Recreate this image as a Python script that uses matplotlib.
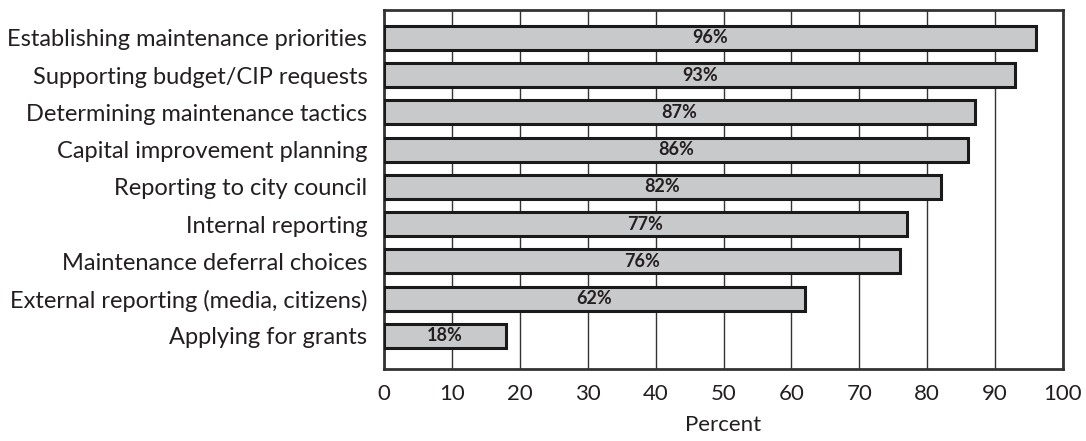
import matplotlib
matplotlib.use("Agg")
import matplotlib.pyplot as plt

# ── Data ──────────────────────────────────────────────────────────────────────
categories = [
    "Establishing maintenance priorities",
    "Supporting budget/CIP requests",
    "Determining maintenance tactics",
    "Capital improvement planning",
    "Reporting to city council",
    "Internal reporting",
    "Maintenance deferral choices",
    "External reporting (media, citizens)",
    "Applying for grants",
]
percents = [96, 93, 87, 86, 82, 77, 76, 62, 18]
xticks = [0, 10, 20, 30, 40, 50, 60, 70, 80, 90, 100]

TEXT = "#231f20"
plt.rcParams["font.family"] = ["Lato", "DejaVu Sans"]

fig = plt.figure(figsize=(10.86, 4.41), dpi=100)
ax = fig.add_axes([384 / 1086, 1 - 369 / 441, (1063 - 384) / 1086, (369 - 10) / 441])

y = list(range(len(categories)))
ax.barh(y, percents, height=0.64, color="#c8c9cb", edgecolor="#1a1a1a",
        linewidth=2.2, zorder=3)
for yi, p in zip(y, percents):
    ax.text(p / 2, yi, f"{p}%", ha="center", va="center", fontsize=13,
            fontweight="bold", color=TEXT, zorder=4)

ax.set_xlim(0, 100)
ax.set_ylim(8.89, -0.75)
ax.set_xticks(xticks)
ax.set_yticks(y)
ax.set_yticklabels(categories, fontsize=17, color=TEXT)
ax.tick_params(axis="x", labelsize=16, colors=TEXT, length=0, pad=11)
ax.tick_params(axis="y", length=0, pad=12)
ax.grid(axis="x", color="#333333", linewidth=1.0, zorder=1)
for s in ax.spines.values():
    s.set_edgecolor("#333333")
    s.set_linewidth(2)
ax.set_xlabel("Percent", fontsize=16, color=TEXT, labelpad=8)

fig.savefig("out.png", dpi=100)
